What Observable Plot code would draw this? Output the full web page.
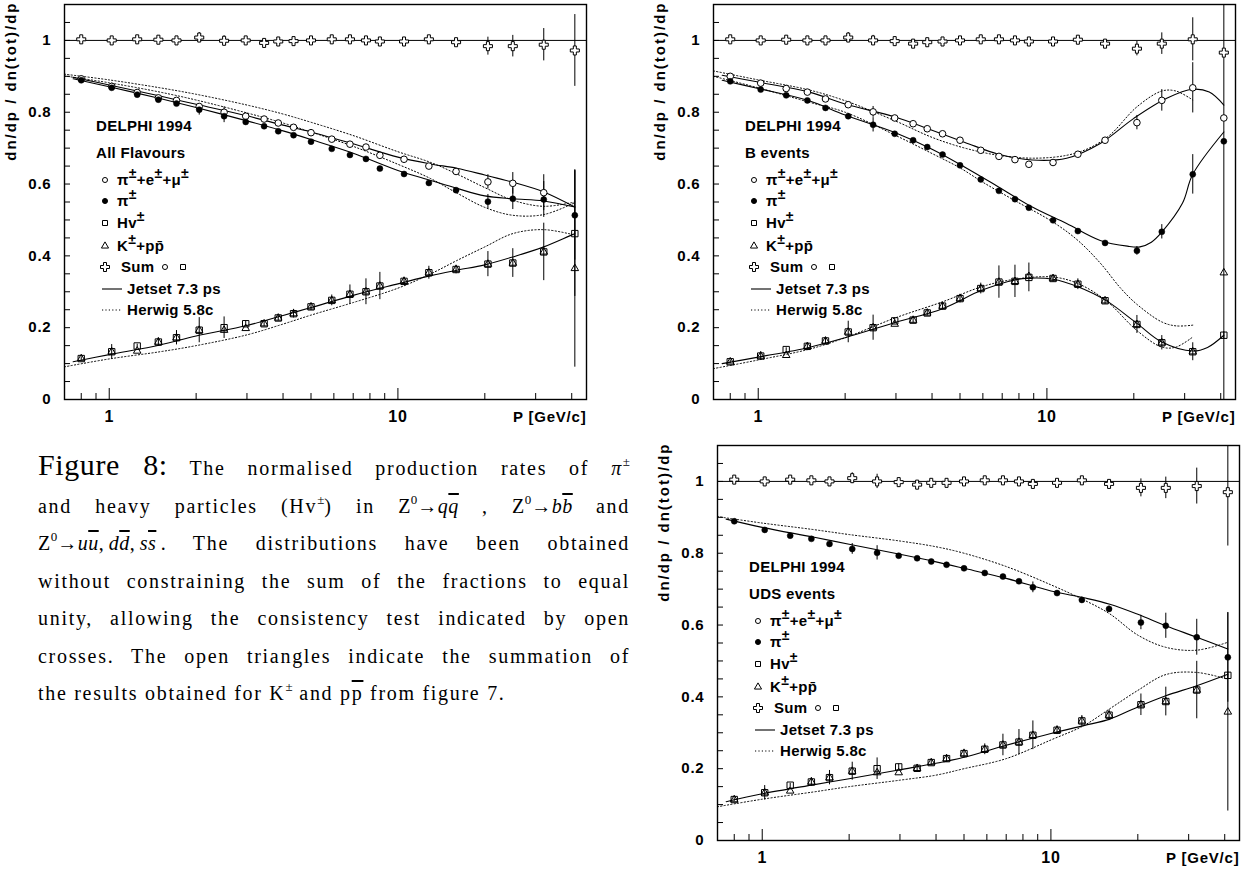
<!DOCTYPE html>
<html>
<head>
<meta charset="utf-8">
<script src="https://cdn.jsdelivr.net/npm/d3@7"></script>
<script src="https://cdn.jsdelivr.net/npm/@observablehq/plot@0.6"></script>
<style>
  body { margin: 0; background: #fff; }
  #page { position: relative; width: 1252px; height: 871px; overflow: hidden; background: #fff; }
  .panel { position: absolute; }
  #caption { position: absolute; left: 38px; top: 450px; width: 592px;
    font-family: "Liberation Serif", "DejaVu Serif", serif; font-size: 20px; color: #000; letter-spacing: 1.7px; }
  .ln { height: 37.5px; line-height: 37.5px; text-align: justify; text-align-last: justify; }
  .ln.last { text-align: left; text-align-last: left; }
  .fig { font-size: 30px; line-height: 1; letter-spacing: 0.6px; }
  sup { font-size: 13px; line-height: 0; vertical-align: 9px; letter-spacing: 0; }
  .ov { text-decoration: overline; }
  .m { letter-spacing: 0.5px; }
</style>
</head>
<body>
<div id="page">
  <div id="p1" class="panel" style="left:0px;top:0px"></div>
  <div id="p2" class="panel" style="left:649px;top:0px"></div>
  <div id="p3" class="panel" style="left:653px;top:441px"></div>
  <div id="caption">
    <div class="ln"><span class="fig">Figure 8:</span> The normalised production rates of <i>π</i><sup>±</sup></div>
    <div class="ln">and heavy particles (Hv<sup>±</sup>) in <span class="m">Z<sup>0</sup>→<i>q</i><i class="ov">q</i></span> , <span class="m">Z<sup>0</sup>→<i>b</i><i class="ov">b</i></span> and</div>
    <div class="ln"><span class="m">Z<sup>0</sup>→<i>u</i><i class="ov">u</i>,&#8201;<i>d</i><i class="ov">d</i>,&#8201;<i>s</i><i class="ov">s</i>&#8201;.</span> The distributions have been obtained</div>
    <div class="ln">without constraining the sum of the fractions to equal</div>
    <div class="ln">unity, allowing the consistency test indicated by open</div>
    <div class="ln">crosses. The open triangles indicate the summation of</div>
    <div class="ln last">the results obtained for K<sup>±</sup> and p<span class="ov">p</span> from figure 7.</div>
  </div>
</div>
<script>
// Momentum bins (GeV/c) shared by the three samples
const pBins = [0.8, 1.02, 1.25, 1.48, 1.71, 2.05, 2.5, 2.97, 3.44, 3.85, 4.35, 5.0, 5.9, 6.82, 7.75, 8.66, 10.5, 12.8, 15.9, 20.5, 25.0, 32.0, 41.0];

// Axis ticks
const yLabelTicks = [0, 0.2, 0.4, 0.6, 0.8, 1];
const yMinorTicks = [0.05, 0.1, 0.15, 0.2, 0.25, 0.3, 0.35, 0.4, 0.45, 0.5, 0.55, 0.6, 0.65, 0.7, 0.75, 0.8, 0.85, 0.9, 0.95, 1, 1.05];
const xMajorTicks = [1, 10];
const xMinorTicks = [0.8, 0.9, 2, 3, 4, 5, 6, 7, 8, 9, 20, 30, 40];

// ---- All flavours ----
const sumAll    = [1.003, 1.0, 1.003, 1.002, 1.0, 1.008, 0.999, 1.0, 0.993, 0.997, 0.998, 1.0, 1.003, 1.003, 1.0, 0.997, 0.997, 1.003, 0.995, 0.984, 0.984, 0.988, 0.972];
const sumAllErr = [0.004, 0.004, 0.004, 0.004, 0.004, 0.014, 0.014, 0.005, 0.005, 0.005, 0.005, 0.005, 0.006, 0.006, 0.006, 0.006, 0.006, 0.008, 0.01, 0.025, 0.03, 0.045, 0.1];
const leptAll    = [0.893, 0.872, 0.855, 0.840, 0.833, 0.816, 0.800, 0.789, 0.781, 0.770, 0.758, 0.743, 0.725, 0.711, 0.703, 0.680, 0.669, 0.650, 0.635, 0.606, 0.602, 0.576, null];
const leptAllErr = [0, 0, 0, 0, 0, 0, 0.015, 0, 0, 0, 0, 0, 0, 0, 0, 0, 0, 0, 0, 0.02, 0.03, 0.05, 0];
const piAll    = [0.889, 0.868, 0.849, 0.835, 0.824, 0.807, 0.789, 0.773, 0.761, 0.747, 0.736, 0.718, 0.698, 0.681, 0.670, 0.643, 0.628, 0.603, 0.583, 0.551, 0.559, 0.557, 0.513];
const piAllErr = [0, 0, 0, 0, 0, 0.015, 0.018, 0, 0, 0, 0, 0, 0, 0, 0, 0, 0, 0, 0, 0.02, 0.03, 0.05, 0.125];
const hvAll    = [0.114, 0.133, 0.149, 0.160, 0.172, 0.193, 0.200, 0.211, 0.211, 0.227, 0.239, 0.258, 0.276, 0.293, 0.300, 0.316, 0.329, 0.353, 0.362, 0.377, 0.380, 0.411, 0.462];
const hvAllErr = [0.005, 0.02, 0.005, 0.012, 0.02, 0.035, 0.03, 0.008, 0.008, 0.008, 0.012, 0.01, 0.015, 0.026, 0.036, 0.038, 0.012, 0.018, 0.012, 0.035, 0.04, 0.08, 0.175];
const kpAll    = [0.114, 0.133, 0.135, 0.160, 0.172, 0.193, 0.193, 0.198, 0.211, 0.227, 0.239, 0.258, 0.276, 0.293, 0.300, 0.316, 0.329, 0.353, 0.362, 0.377, 0.380, 0.411, 0.365];
const kpAllErr = [0, 0, 0, 0, 0, 0, 0, 0, 0, 0, 0, 0, 0, 0, 0, 0, 0, 0, 0, 0, 0, 0, 0.275];
const jetsetAllP = [0.75, 1, 1.5, 2, 3, 4, 5, 7, 10, 13, 16, 20, 25, 32, 41];
const jetsetAllLept = [0.897, 0.876, 0.845, 0.822, 0.790, 0.764, 0.745, 0.712, 0.675, 0.656, 0.644, 0.625, 0.605, 0.578, 0.536];
const jetsetAllPi   = [0.893, 0.871, 0.838, 0.813, 0.776, 0.748, 0.724, 0.686, 0.638, 0.610, 0.588, 0.567, 0.559, 0.553, 0.536];
const jetsetAllHv   = [0.105, 0.125, 0.152, 0.177, 0.206, 0.234, 0.256, 0.290, 0.322, 0.345, 0.360, 0.375, 0.397, 0.425, 0.462];
const herwigAllP = [0.7, 1, 1.5, 2, 3, 4, 5, 7, 10, 13, 16, 20, 25, 32, 41];
const herwigAllLept = [0.906, 0.890, 0.868, 0.850, 0.820, 0.795, 0.772, 0.735, 0.690, 0.660, 0.628, 0.590, 0.555, 0.538, 0.550];
const herwigAllPi   = [0.901, 0.882, 0.856, 0.834, 0.798, 0.770, 0.745, 0.705, 0.655, 0.615, 0.575, 0.535, 0.513, 0.515, 0.548];
const herwigAllHv   = [0.091, 0.113, 0.133, 0.150, 0.180, 0.210, 0.235, 0.270, 0.310, 0.350, 0.387, 0.425, 0.462, 0.473, 0.458];

// ---- B events ----
const sumB    = [1.003, 1.0, 1.002, 1.0, 1.0, 1.008, 1.0, 0.998, 0.991, 0.995, 0.997, 1.0, 1.003, 1.003, 1.0, 0.997, 0.997, 1.002, 0.991, 0.977, 0.991, 1.003, 0.966];
const sumBErr = [0.004, 0.004, 0.004, 0.004, 0.004, 0.014, 0.014, 0.005, 0.005, 0.005, 0.005, 0.005, 0.006, 0.006, 0.006, 0.006, 0.006, 0.006, 0.008, 0.02, 0.03, 0.06, 1.2];
const leptB    = [0.900, 0.881, 0.866, 0.856, 0.837, 0.821, 0.801, 0.784, 0.768, 0.754, 0.740, 0.722, 0.694, 0.677, 0.668, 0.655, 0.660, 0.683, 0.722, 0.771, 0.833, 0.868, 0.784];
const leptBErr = [0, 0, 0, 0, 0, 0, 0.015, 0, 0, 0, 0, 0, 0, 0, 0, 0, 0, 0, 0, 0.02, 0.03, 0.07, 0];
const piB    = [0.886, 0.863, 0.847, 0.833, 0.812, 0.789, 0.765, 0.740, 0.722, 0.703, 0.682, 0.652, 0.613, 0.581, 0.558, 0.534, 0.499, 0.469, 0.436, 0.414, 0.467, 0.627, 0.719];
const piBErr = [0, 0, 0, 0, 0, 0, 0.02, 0, 0, 0, 0, 0, 0, 0, 0, 0, 0, 0, 0, 0.012, 0.02, 0.055, 0];
const hvB    = [0.105, 0.121, 0.139, 0.148, 0.163, 0.188, 0.200, 0.219, 0.221, 0.241, 0.260, 0.281, 0.309, 0.327, 0.329, 0.340, 0.337, 0.321, 0.275, 0.209, 0.158, 0.133, 0.179];
const hvBErr = [0.005, 0.012, 0.005, 0.008, 0.01, 0.03, 0.035, 0.008, 0.008, 0.008, 0.01, 0.012, 0.015, 0.045, 0.045, 0.04, 0.01, 0.015, 0.01, 0.025, 0.02, 0.025, 0.01];
const kpB    = [0.105, 0.121, 0.123, 0.148, 0.163, 0.188, 0.200, 0.210, 0.221, 0.241, 0.260, 0.281, 0.309, 0.327, 0.329, 0.343, 0.337, 0.321, 0.275, 0.209, 0.158, 0.133, 0.353];
const kpBErr = [0, 0, 0, 0, 0, 0, 0, 0, 0, 0, 0, 0, 0, 0, 0, 0, 0, 0, 0, 0, 0, 0, 0];
const jetsetBLeptP = [0.75, 1, 1.5, 2, 3, 4, 5.2, 6.8, 8.9, 11.7, 15.3, 20, 26, 32, 36.5, 41];
const jetsetBLept  = [0.903, 0.884, 0.856, 0.823, 0.786, 0.750, 0.716, 0.683, 0.667, 0.672, 0.713, 0.783, 0.839, 0.864, 0.856, 0.820];
const jetsetBPiP = [0.75, 1, 1.5, 2, 3, 4, 5.2, 6.8, 8.9, 11.7, 15.3, 19, 21, 23, 25, 29.5, 32, 41];
const jetsetBPi  = [0.889, 0.866, 0.832, 0.792, 0.742, 0.697, 0.647, 0.592, 0.536, 0.490, 0.443, 0.427, 0.425, 0.438, 0.466, 0.547, 0.627, 0.745];
const jetsetBHvP = [0.75, 1, 1.5, 2, 3, 4.35, 5.94, 7.74, 8.66, 10.5, 12.8, 16, 20.5, 25, 32, 36, 41];
const jetsetBHv  = [0.100, 0.118, 0.145, 0.172, 0.215, 0.253, 0.304, 0.333, 0.338, 0.335, 0.314, 0.276, 0.212, 0.160, 0.135, 0.145, 0.179];
const herwigBLeptP = [0.7, 1, 1.5, 2, 3, 4, 5.2, 6.8, 9, 11.7, 14, 16.5, 20.5, 25, 28, 32];
const herwigBLept  = [0.915, 0.890, 0.862, 0.832, 0.775, 0.730, 0.700, 0.680, 0.672, 0.680, 0.700, 0.736, 0.815, 0.859, 0.859, 0.834];
const herwigBPiP = [0.7, 1, 1.5, 2, 3, 4, 5, 6, 7.7, 10.5, 12.8, 15.3, 18, 20.5, 25, 28, 32];
const herwigBPi  = [0.900, 0.868, 0.828, 0.800, 0.735, 0.685, 0.645, 0.605, 0.555, 0.494, 0.443, 0.380, 0.310, 0.265, 0.216, 0.205, 0.207];
const herwigBHvP = [0.7, 1, 1.5, 2, 3, 4.35, 5.94, 7.74, 10.5, 12.8, 16, 20.5, 25, 28, 32];
const herwigBHv  = [0.086, 0.110, 0.140, 0.172, 0.228, 0.272, 0.314, 0.335, 0.341, 0.323, 0.276, 0.192, 0.146, 0.146, 0.174];

// ---- UDS events ----
const sumUds    = [1.005, 1.0, 1.005, 1.003, 1.0, 1.009, 1.0, 0.998, 0.991, 0.996, 0.996, 1.0, 1.003, 1.003, 1.0, 0.993, 0.996, 1.003, 0.993, 0.982, 0.982, 0.987, 0.970];
const sumUdsErr = [0.004, 0.004, 0.004, 0.004, 0.004, 0.015, 0.02, 0.005, 0.005, 0.005, 0.005, 0.005, 0.006, 0.006, 0.006, 0.006, 0.006, 0.006, 0.008, 0.025, 0.03, 0.05, 0.15];
const piUds    = [0.889, 0.865, 0.849, 0.840, 0.826, 0.812, 0.801, 0.793, 0.786, 0.777, 0.768, 0.758, 0.745, 0.735, 0.722, 0.705, 0.689, 0.670, 0.645, 0.607, 0.598, 0.566, 0.510];
const piUdsErr = [0, 0, 0, 0, 0, 0.015, 0.02, 0, 0, 0, 0, 0, 0, 0, 0, 0.015, 0, 0.008, 0.008, 0.02, 0.035, 0.05, 0.125];
const hvUds    = [0.114, 0.133, 0.154, 0.163, 0.175, 0.193, 0.200, 0.205, 0.201, 0.217, 0.228, 0.242, 0.254, 0.266, 0.274, 0.293, 0.307, 0.333, 0.349, 0.378, 0.387, 0.419, 0.460];
const hvUdsErr = [0.005, 0.02, 0.005, 0.012, 0.02, 0.025, 0.03, 0.008, 0.008, 0.008, 0.01, 0.012, 0.015, 0.03, 0.035, 0.04, 0.012, 0.015, 0.015, 0.03, 0.04, 0.08, 0.01];
const kpUds    = [0.114, 0.133, 0.138, 0.163, 0.175, 0.193, 0.189, 0.189, 0.201, 0.217, 0.228, 0.242, 0.254, 0.266, 0.274, 0.293, 0.307, 0.333, 0.349, 0.378, 0.387, 0.419, 0.358];
const kpUdsErr = [0, 0, 0, 0, 0, 0, 0, 0, 0, 0, 0, 0, 0, 0, 0, 0, 0, 0, 0, 0, 0, 0, 0.276];
const jetsetUdsP = [0.75, 1, 1.5, 2, 3, 4, 5, 7, 10, 13, 16, 20, 25, 32, 41];
const jetsetUdsPi = [0.895, 0.872, 0.845, 0.825, 0.797, 0.776, 0.758, 0.730, 0.695, 0.676, 0.658, 0.630, 0.598, 0.566, 0.533];
const jetsetUdsHv = [0.108, 0.130, 0.155, 0.172, 0.197, 0.215, 0.232, 0.265, 0.298, 0.320, 0.338, 0.372, 0.403, 0.431, 0.463];
const herwigUdsP = [0.7, 1, 1.5, 2, 3, 4, 5, 7, 10, 13, 16, 20, 25, 32, 41];
const herwigUdsPi = [0.902, 0.884, 0.866, 0.852, 0.834, 0.818, 0.800, 0.763, 0.712, 0.670, 0.631, 0.572, 0.538, 0.530, 0.552];
const herwigUdsHv = [0.094, 0.115, 0.135, 0.150, 0.168, 0.182, 0.200, 0.228, 0.280, 0.320, 0.367, 0.418, 0.462, 0.468, 0.449];

const FONT = "'Liberation Sans', Arial, Helvetica, sans-serif";
const M = {left: 64, right: 12, top: 4, bottom: 32};
const FRAME_W = 522, FRAME_H = 395;

function points(vals, errs) {
  if (!vals) return [];
  return pBins.map((p, i) => ({p, v: vals[i], e: errs ? errs[i] : 0})).filter(d => d.v != null);
}
function curve(xs, ys) { return xs.map((p, i) => ({p, v: ys[i]})); }

function panel(cfg) {
  const sum = points(cfg.sum, cfg.sumErr), lept = points(cfg.lept, cfg.leptErr),
        pi = points(cfg.pi, cfg.piErr), hv = points(cfg.hv, cfg.hvErr), kp = points(cfg.kp, cfg.kpErr);
  const errBars = d => Plot.ruleX(d.filter(r => r.e > 0), {x: "p", y1: r => r.v - r.e, y2: r => r.v + r.e, stroke: "black", strokeWidth: 1, clip: true});
  const plot = Plot.plot({
    width: M.left + FRAME_W + M.right,
    height: M.top + FRAME_H + M.bottom,
    marginLeft: M.left, marginRight: M.right, marginTop: M.top, marginBottom: M.bottom,
    style: {fontFamily: FONT, fontSize: "15px", fontWeight: "bold", overflow: "visible", background: "white", color: "black"},
    x: {type: "log", domain: [0.7, 45]},
    y: {domain: [0, 1.1]},
    marks: [
      Plot.ruleY([1], {stroke: "black", strokeWidth: 1}),
      ...cfg.herwig.map(c => Plot.line(curve(c[0], c[1]), {x: "p", y: "v", curve: "catmull-rom", stroke: "black", strokeWidth: 1, strokeDasharray: "1.2,2.2", clip: true})),
      ...cfg.jetset.map(c => Plot.line(curve(c[0], c[1]), {x: "p", y: "v", curve: "catmull-rom", stroke: "black", strokeWidth: 1.1, clip: true})),
      errBars(sum), errBars(lept), errBars(pi), errBars(hv), errBars(kp),
      Plot.dot(hv, {x: "p", y: "v", symbol: "square", r: 3.6, fill: "none", stroke: "black", strokeWidth: 1}),
      Plot.dot(kp, {x: "p", y: "v", symbol: "triangle", r: 2.8, fill: "none", stroke: "black", strokeWidth: 1}),
      Plot.dot(lept, {x: "p", y: "v", symbol: "circle", r: 3.3, fill: "white", stroke: "black", strokeWidth: 1}),
      Plot.dot(pi, {x: "p", y: "v", symbol: "circle", r: 3, fill: "black", stroke: "black", strokeWidth: 0.5}),
      Plot.dot(sum, {x: "p", y: "v", symbol: "cross", r: 3.8, fill: "white", stroke: "black", strokeWidth: 1}),
      Plot.frame({stroke: "black", strokeWidth: 1.4}),
      Plot.axisY({ticks: yLabelTicks, tickSize: 0, tickPadding: 13, fontSize: 15, label: null,
        tickFormat: d => (d === 0 ? "0" : d === 1 ? "1" : d.toFixed(1))}),
      Plot.axisY({ticks: yMinorTicks, tickSize: 6, dx: 6, tickFormat: () => "", label: null}),
      Plot.axisX({ticks: xMajorTicks, tickSize: 0, tickPadding: 11, fontSize: 16, label: null, tickFormat: d => String(d)}),
      Plot.axisX({ticks: xMajorTicks, tickSize: 11, dy: -11, tickFormat: () => "", label: null}),
      Plot.axisX({ticks: xMinorTicks, tickSize: 6, dy: -6, tickFormat: () => "", label: null}),
      Plot.text(["P [GeV/c]"], {text: d => d, frameAnchor: "bottom-right", dy: 18, textAnchor: "end", lineAnchor: "middle", fontSize: 15}),
      Plot.text(["dn/dp / dn(tot)/dp"], {text: d => d, frameAnchor: "top-left", rotate: -90, textAnchor: "end", lineAnchor: "middle", dx: -53, dy: -3, fontSize: 15})
    ]
  });
  d3.select(plot).selectAll("text").attr("letter-spacing", "0.8px");
  d3.select(plot).selectAll("text").filter(function() { return this.textContent === "dn/dp / dn(tot)/dp"; })
    .attr("letter-spacing", "2px");
  drawLegend(plot, cfg.title);
  return plot;
}

// Legend block in the upper-left part of each frame
function drawLegend(svg, title) {
  const g = d3.select(svg).append("g")
    .attr("transform", `translate(${M.left},${M.top})`)
    .attr("font-family", FONT).attr("font-size", 15).attr("font-weight", "bold")
    .attr("text-anchor", "start")
    .attr("fill", "black").attr("letter-spacing", "0.3px");
  const rich = (x, y, parts) => {
    const t = g.append("text").attr("x", x).attr("y", y).attr("text-anchor", "start");
    let up = false;
    for (const s of parts) {
      const sup = s.startsWith("^");
      const ts = t.append("tspan").text(sup ? s.slice(1) : s);
      if (sup) ts.attr("font-size", 14);
      if (sup && !up) { ts.attr("dy", -7); up = true; }
      else if (!sup && up) { ts.attr("dy", 7); up = false; }
    }
  };
  const sym = (type, size, x, y, fill) => g.append("path")
    .attr("d", d3.symbol(type, size)()).attr("transform", `translate(${x},${y})`)
    .attr("fill", fill).attr("stroke", "black").attr("stroke-width", 1);
  const sx = 41, tx = 53;
  rich(32, 127, ["DELPHI 1994"]);
  rich(32, 154, [title]);
  sym(d3.symbolCircle, 20, sx, 176, "white");
  rich(tx, 181, ["π", "^±", "+e", "^±", "+μ", "^±"]);
  sym(d3.symbolCircle, 20, sx, 197, "black");
  rich(tx, 202, ["π", "^±"]);
  sym(d3.symbolSquare, 25, sx, 219, "white");
  rich(tx, 224, ["Hv", "^±"]);
  sym(d3.symbolTriangle, 22, sx, 242, "white");
  rich(tx, 247, ["K", "^±", "+pp̄"]);
  sym(d3.symbolCross, 45, sx, 263, "white");
  rich(57, 268, ["Sum"]);
  sym(d3.symbolCircle, 20, 101, 263, "white");
  sym(d3.symbolSquare, 25, 119, 263, "white");
  g.append("line").attr("x1", 38).attr("x2", 58).attr("y1", 285).attr("y2", 285).attr("stroke", "black").attr("stroke-width", 1.1);
  rich(63, 290, ["Jetset 7.3 ps"]);
  g.append("line").attr("x1", 38).attr("x2", 58).attr("y1", 306).attr("y2", 306).attr("stroke", "black").attr("stroke-width", 1).attr("stroke-dasharray", "1.2,2.2");
  rich(63, 311, ["Herwig 5.8c"]);
}

document.getElementById("p1").append(panel({
  title: "All Flavours",
  sum: sumAll, sumErr: sumAllErr, lept: leptAll, leptErr: leptAllErr, pi: piAll, piErr: piAllErr,
  hv: hvAll, hvErr: hvAllErr, kp: kpAll, kpErr: kpAllErr,
  jetset: [[jetsetAllP, jetsetAllLept], [jetsetAllP, jetsetAllPi], [jetsetAllP, jetsetAllHv]],
  herwig: [[herwigAllP, herwigAllLept], [herwigAllP, herwigAllPi], [herwigAllP, herwigAllHv]]
}));
document.getElementById("p2").append(panel({
  title: "B events",
  sum: sumB, sumErr: sumBErr, lept: leptB, leptErr: leptBErr, pi: piB, piErr: piBErr,
  hv: hvB, hvErr: hvBErr, kp: kpB, kpErr: kpBErr,
  jetset: [[jetsetBLeptP, jetsetBLept], [jetsetBPiP, jetsetBPi], [jetsetBHvP, jetsetBHv]],
  herwig: [[herwigBLeptP, herwigBLept], [herwigBPiP, herwigBPi], [herwigBHvP, herwigBHv]]
}));
document.getElementById("p3").append(panel({
  title: "UDS events",
  sum: sumUds, sumErr: sumUdsErr, lept: null, pi: piUds, piErr: piUdsErr,
  hv: hvUds, hvErr: hvUdsErr, kp: kpUds, kpErr: kpUdsErr,
  jetset: [[jetsetUdsP, jetsetUdsPi], [jetsetUdsP, jetsetUdsHv]],
  herwig: [[herwigUdsP, herwigUdsPi], [herwigUdsP, herwigUdsHv]]
}));
</script>
</body>
</html>
